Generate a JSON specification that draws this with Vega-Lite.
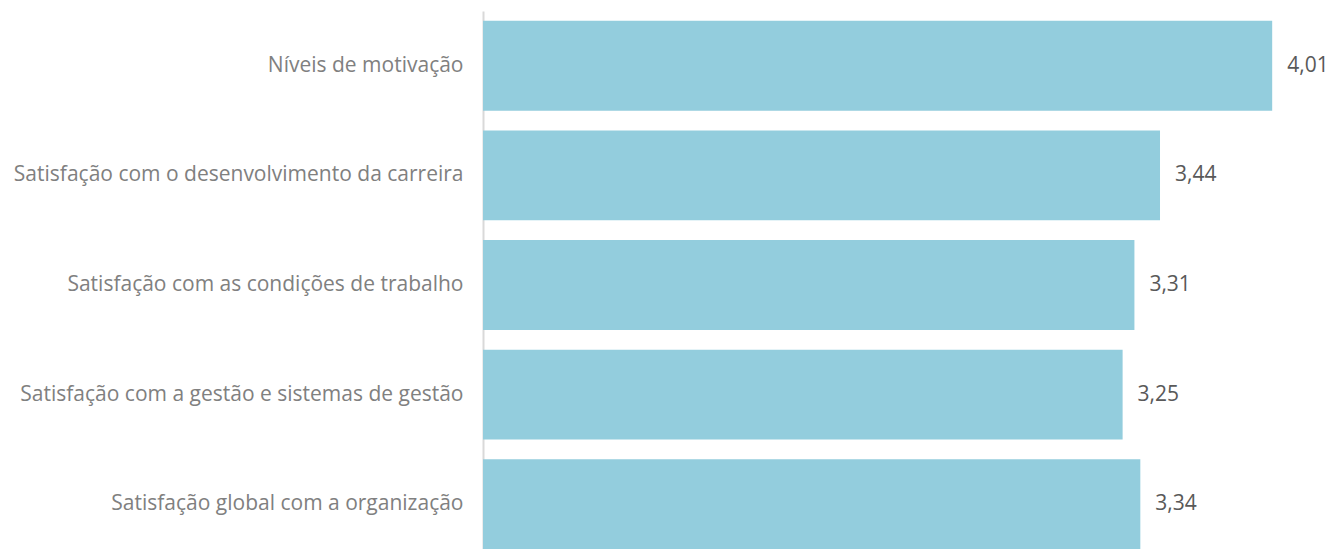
{
  "$schema": "https://vega.github.io/schema/vega-lite/v6.json",
  "autosize": {"type": "none"},
  "padding": {"left": 483, "top": 11, "right": 0, "bottom": 0},
  "width": 850,
  "height": 548,
  "background": "white",
  "config": {
    "view": {"stroke": null},
    "locale": {"number": {"decimal": ",", "thousands": ".", "grouping": [3], "currency": ["", " €"]}}
  },
  "data": {
    "values": [
      {"categoria": "Níveis de motivação", "valor": 4.01},
      {"categoria": "Satisfação com o desenvolvimento da carreira", "valor": 3.44},
      {"categoria": "Satisfação com as condições de trabalho", "valor": 3.31},
      {"categoria": "Satisfação com a gestão e sistemas de gestão", "valor": 3.25},
      {"categoria": "Satisfação global com a organização", "valor": 3.34}
    ]
  },
  "encoding": {
    "y": {
      "field": "categoria",
      "type": "nominal",
      "sort": null,
      "scale": {"paddingInner": 0.18, "paddingOuter": 0.09},
      "axis": {
        "title": null,
        "ticks": false,
        "domain": true,
        "domainColor": "#d9d9d9",
        "domainWidth": 2,
        "labelFont": "Open Sans",
        "labelFontSize": 21,
        "labelColor": "#808080",
        "labelPadding": 20,
        "labelLimit": 600
      }
    },
    "x": {
      "field": "valor",
      "type": "quantitative",
      "scale": {"domain": [0, 4.319], "nice": false},
      "axis": null
    }
  },
  "layer": [
    {"mark": {"type": "bar", "color": "#93cddd"}},
    {
      "mark": {"type": "text", "align": "left", "dx": 15, "font": "Open Sans", "fontSize": 21, "color": "#595959"},
      "encoding": {"text": {"field": "valor", "type": "quantitative", "format": ".2f"}}
    }
  ]
}
